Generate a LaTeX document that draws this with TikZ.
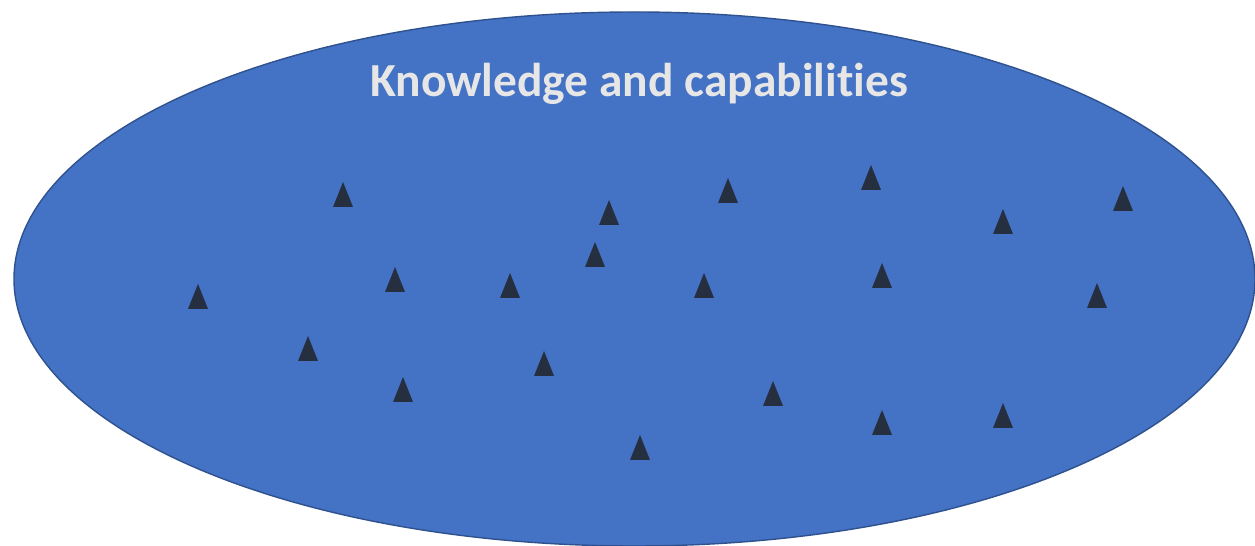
\documentclass[tikz,border=0pt]{standalone}
\usepackage{fontspec}
\setmainfont{Carlito}[Ligatures=NoCommon]
\definecolor{fieldblue}{HTML}{4472C4}
\definecolor{fieldedge}{HTML}{2F528F}
\definecolor{marker}{HTML}{262F40}
\definecolor{titlegray}{HTML}{E7E6E6}
\begin{document}
\begin{tikzpicture}[x=0.02cm,y=-0.02cm,
  field/.style={fill=fieldblue,draw=fieldedge,line width=0.8pt},
  title/.style={text=titlegray,font=\bfseries\fontsize{27}{32}\selectfont},
  marker/.style={fill=marker}]
  % canvas in pixel units
  \useasboundingbox[fill=white] (0,0) rectangle (1255,546);
  % the field
  \draw[field] (634.5,279) ellipse [x radius=620.5, y radius=267];
  \node[title] (head) at (639,84) {Knowledge and capabilities};
  % scattered markers
  \foreach \px/\py [count=\i] in {343/195,198/297,395/280,308/349,403/390,
      510/286,544/364,609/213,595/255,640/448,728/191,704/286,773/394,
      871/178,882/276,882/423,1003/222,1003/416,1123/199,1097/296}{
    \fill[marker] (\px-10,\py+12) -- (\px,\py-13) -- (\px+10,\py+12) -- cycle;
  }
\end{tikzpicture}
\end{document}
